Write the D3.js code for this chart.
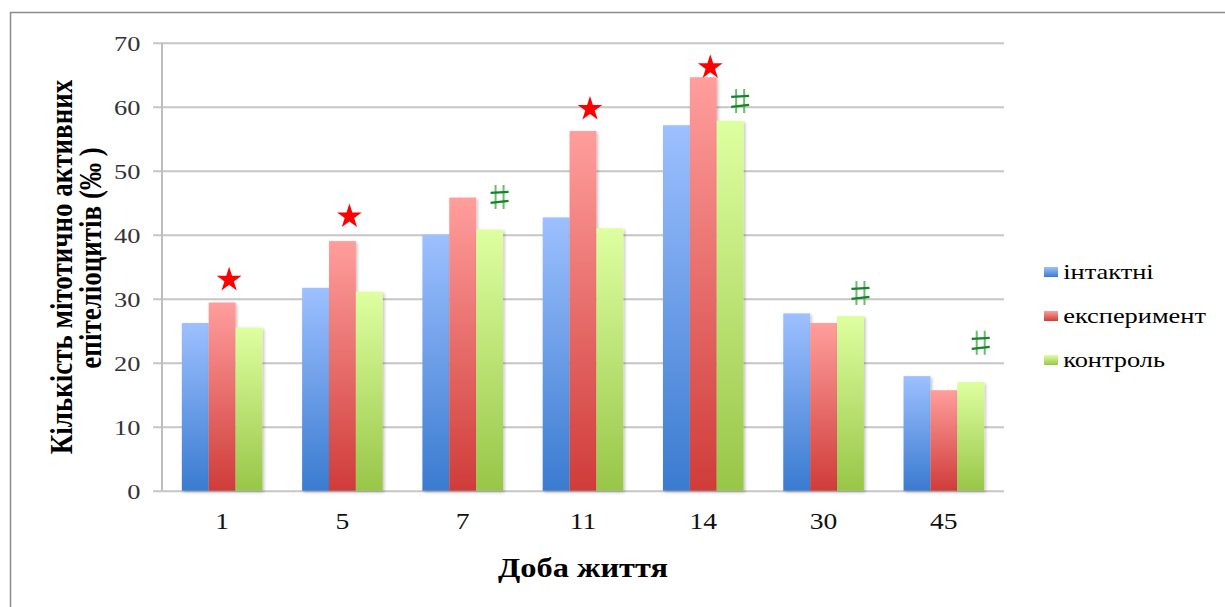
<!DOCTYPE html>
<html><head><meta charset="utf-8"><script src="https://cdn.jsdelivr.net/npm/d3@7"></script></head>
<body style="margin:0">
<script>
// data
const categories = ['1', '5', '7', '11', '14', '30', '45'];
const seriesNames = ['інтактні', 'експеримент', 'контроль'];
const intact = [26.2, 31.7, 40.0, 42.7, 57.1, 27.7, 17.9];
const experiment = [29.4, 39.0, 45.8, 56.2, 64.6, 26.2, 15.7];
const control = [25.5, 31.1, 40.8, 41.0, 57.8, 27.3, 17.0];
const yTicks = [0, 10, 20, 30, 40, 50, 60, 70];
// significance marks: star = vs intact, sharp = vs experiment
const starCats = ['1', '5', '11', '14'];
const starValues = [33.1, 43.0, 59.8, 66.3];
const sharpCats = ['7', '14', '30', '45'];
const sharpValues = [45.9, 60.9, 30.9, 23.1];

const w = 1225, h = 607;
const plot = { left: 162, right: 1004, top: 42.7, bottom: 490.7 };
const fontName = '"Liberation Serif"';
// the source picture is a little stretched sideways, so text is widened too
const stretch = 'scale(1.2,1)';

const svg = d3.select('body').append('svg')
  .attr('width', w)
  .attr('height', h);

// outer frame (runs off the right and bottom edges)
svg.append('rect')
  .attr('x', 10.5).attr('y', 12.5)
  .attr('width', 1260).attr('height', 640)
  .attr('fill', 'none')
  .attr('stroke', '#8c8c8c')
  .attr('stroke-width', 1.5);

const colors = [
  { top: '#9dc0ff', bottom: '#3a7bd0' },
  { top: '#ff9e9c', bottom: '#cf3c39' },
  { top: '#deffa0', bottom: '#98c648' }
];

const defs = svg.append('defs');
colors.forEach((c, i) => {
  const g = defs.append('linearGradient')
    .attr('id', 'grad' + i)
    .attr('x1', 0).attr('y1', 0).attr('x2', 0).attr('y2', 1);
  g.append('stop').attr('offset', '0%').attr('stop-color', c.top);
  g.append('stop').attr('offset', '100%').attr('stop-color', c.bottom);
});
const shadow = defs.append('filter').attr('id', 'shadow')
  .attr('x', '-20%').attr('y', '-5%').attr('width', '150%').attr('height', '115%');
shadow.append('feDropShadow')
  .attr('dx', 1.5).attr('dy', 1.5).attr('stdDeviation', 1.5)
  .attr('flood-color', '#000').attr('flood-opacity', 0.25);

const xScale = d3.scaleBand()
  .domain(categories)
  .range([plot.left, plot.right])
  .paddingInner(0.33)
  .paddingOuter(0.165);

const xInner = d3.scaleBand()
  .domain(seriesNames)
  .range([0, xScale.bandwidth()]);

const yScale = d3.scaleLinear()
  .domain([0, 70])
  .range([plot.bottom, plot.top]);

// gridlines with tick stubs
const yAxis = d3.axisLeft(yScale)
  .tickValues(yTicks)
  .tickSize(-(plot.right - plot.left))
  .tickSizeOuter(0)
  .tickPadding(0);

const yAxisG = svg.append('g')
  .attr('transform', `translate(${plot.left},0)`)
  .call(yAxis);
yAxisG.select('.domain').remove();
yAxisG.selectAll('.tick line')
  .attr('x1', -9)
  .attr('stroke', '#c6c6c6')
  .attr('stroke-width', 2);
yAxisG.selectAll('.tick text')
  .attr('x', -18)
  .attr('dy', '0.35em')
  .attr('fill', '#333')
  .attr('transform', stretch)
  .style('font-family', fontName)
  .style('font-size', '22px');

// vertical axis line
svg.append('line')
  .attr('x1', plot.left).attr('x2', plot.left)
  .attr('y1', yScale(70)).attr('y2', yScale(0))
  .attr('stroke', '#bdbdbd')
  .attr('stroke-width', 2);

const series = [intact, experiment, control];
const barData = [];
series.forEach((vals, si) => {
  vals.forEach((v, ci) => barData.push({ cat: categories[ci], s: si, value: v }));
});

svg.append('g').selectAll('rect')
  .data(barData)
  .enter()
  .append('rect')
  .attr('x', d => xScale(d.cat) + xInner(seriesNames[d.s]))
  .attr('y', d => yScale(d.value))
  .attr('width', xInner.bandwidth())
  .attr('height', d => yScale(0) - yScale(d.value))
  .attr('fill', d => `url(#grad${d.s})`)
  .attr('filter', 'url(#shadow)');

// x axis labels
const xAxis = d3.axisBottom(xScale).tickSize(0).tickPadding(22);
const xAxisG = svg.append('g')
  .attr('transform', `translate(0,${plot.bottom})`)
  .call(xAxis);
xAxisG.select('.domain').remove();
xAxisG.selectAll('.tick text')
  .attr('fill', '#111')
  .attr('transform', stretch)
  .style('font-family', fontName)
  .style('font-size', '23px');

// star marks above experiment bars
const starSym = d3.symbol().type(d3.symbolStar).size(190);
svg.append('g').selectAll('path')
  .data(starCats.map((c, i) => ({ cat: c, value: starValues[i] })))
  .enter()
  .append('path')
  .attr('d', starSym)
  .attr('transform', d => `translate(${xScale(d.cat) + xInner(seriesNames[1]) + xInner.bandwidth() / 2 + 7},${yScale(d.value) + 1})`)
  .attr('fill', '#ff0000');

// sharp marks beside control bars, drawn as strokes
const sharps = svg.append('g').selectAll('g')
  .data(sharpCats.map((c, i) => ({ cat: c, value: sharpValues[i] })))
  .enter()
  .append('g')
  .attr('transform', d => `translate(${xScale(d.cat) + xInner(seriesNames[2]) + xInner.bandwidth() / 2 + 10},${yScale(d.value)})`);
sharps.append('path')
  .attr('d', 'M-4,-12V12M4,-12V12')
  .attr('stroke', '#6dbb6d')
  .attr('stroke-width', 2)
  .attr('fill', 'none');
sharps.append('path')
  .attr('d', 'M-9,-4L9,-5M-9,6L9,4')
  .attr('stroke', '#13842a')
  .attr('stroke-width', 2.2)
  .attr('fill', 'none');

// axis titles
svg.append('text')
  .attr('transform', `translate(${(plot.left + plot.right) / 2},577) ${stretch}`)
  .attr('text-anchor', 'middle')
  .style('font-family', fontName)
  .style('font-size', '27px')
  .attr('font-weight', 'bold')
  .text('Доба життя');

const yTitle = svg.append('text')
  .attr('transform', 'translate(72,267) rotate(-90) scale(1,1.2)')
  .attr('text-anchor', 'middle')
  .style('font-family', fontName)
  .style('font-size', '27px')
  .attr('font-weight', 'bold');
yTitle.append('tspan').attr('x', 0).attr('y', 0).text('Кількість мітотично активних');
yTitle.append('tspan').attr('x', 9).attr('y', 24).text('епітеліоцитів (‰ )');

// legend
const legend = svg.append('g').attr('transform', 'translate(1044,272)');
seriesNames.forEach((name, i) => {
  const item = legend.append('g').attr('transform', `translate(0,${i * 44})`);
  item.append('rect')
    .attr('x', 0).attr('y', -5)
    .attr('width', 14).attr('height', 10)
    .attr('fill', `url(#grad${i})`);
  item.append('text')
    .attr('x', 16).attr('y', 7)
    .attr('transform', stretch)
    .style('font-family', fontName)
    .style('font-size', '22px')
    .text(name);
});
</script></body></html>
